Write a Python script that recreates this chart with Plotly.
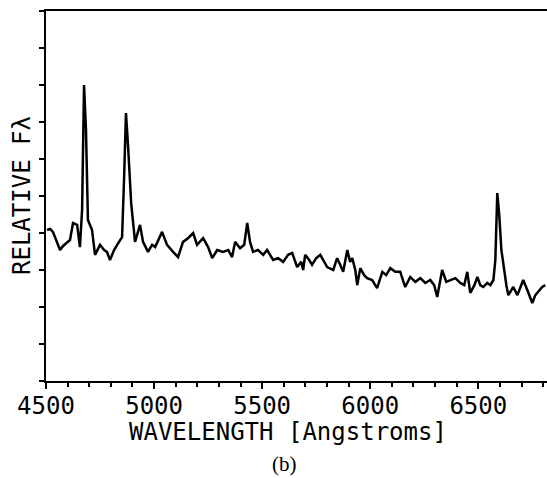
import plotly.graph_objects as go

wavelength = [4505, 4519, 4532, 4546, 4565, 4579, 4597, 4611, 4625, 4644, 4657, 4667, 4676, 4685, 4694,
              4713, 4727, 4750, 4769, 4782, 4796, 4815, 4829, 4852, 4861, 4870, 4880, 4894, 4912, 4935,
              4949, 4972, 4991, 5005, 5037, 5060, 5088, 5111, 5134, 5157, 5181, 5199, 5227, 5250, 5269,
              5292, 5319, 5343, 5361, 5375, 5398, 5417, 5431, 5444, 5458, 5481, 5505, 5523, 5551, 5574,
              5597, 5620, 5639, 5662, 5681, 5690, 5699, 5718, 5731, 5750, 5769, 5787, 5801, 5829, 5847,
              5861, 5875, 5894, 5907, 5917, 5931, 5940, 5954, 5972, 5986, 6009, 6032, 6056, 6074, 6093,
              6116, 6139, 6162, 6185, 6209, 6232, 6255, 6278, 6296, 6310, 6333, 6352, 6370, 6394, 6417,
              6435, 6449, 6463, 6482, 6496, 6509, 6523, 6542, 6556, 6570, 6579, 6588, 6597, 6607, 6616,
              6630, 6639, 6653, 6662, 6681, 6695, 6708, 6727, 6750, 6764, 6778, 6796, 6810]
flux = [4.08, 4.11, 4.03, 3.81, 3.54, 3.65, 3.73, 3.81, 4.27, 4.22, 3.62, 4.62, 8.00, 6.78, 4.35,
        4.08, 3.41, 3.68, 3.54, 3.49, 3.27, 3.54, 3.68, 3.89, 5.43, 7.24, 6.32, 4.81, 3.76, 4.22,
        3.76, 3.49, 3.68, 3.62, 4.03, 3.68, 3.49, 3.35, 3.76, 3.86, 4.00, 3.68, 3.86, 3.62, 3.32,
        3.54, 3.49, 3.54, 3.35, 3.76, 3.59, 3.68, 4.27, 3.76, 3.49, 3.54, 3.41, 3.54, 3.27, 3.32,
        3.22, 3.41, 3.46, 3.08, 3.22, 3.00, 3.41, 3.27, 3.14, 3.32, 3.41, 3.22, 3.08, 3.00, 3.32,
        3.14, 2.95, 3.54, 3.22, 3.32, 3.00, 2.59, 3.05, 2.86, 2.78, 2.73, 2.51, 2.95, 2.86, 3.05,
        2.95, 2.95, 2.54, 2.81, 2.68, 2.78, 2.65, 2.73, 2.59, 2.27, 3.00, 2.68, 2.73, 2.78, 2.65,
        2.59, 2.95, 2.38, 2.59, 2.81, 2.59, 2.54, 2.65, 2.59, 2.73, 3.27, 5.08, 4.49, 3.54, 3.14,
        2.59, 2.32, 2.46, 2.54, 2.32, 2.51, 2.73, 2.46, 2.11, 2.32, 2.41, 2.54, 2.59]

x_title = "WAVELENGTH [Angstroms]"
y_title = "RELATIVE Fλ"
caption = "(b)"

mono = "DejaVu Sans Mono"

fig = go.Figure()
fig.add_trace(go.Scatter(x=wavelength, y=flux, mode="lines",
                         line=dict(color="black", width=2.5), showlegend=False))

fig.update_layout(
    width=547, height=478,
    margin=dict(l=46, r=0, t=11, b=97),
    paper_bgcolor="white", plot_bgcolor="white",
    font=dict(family=mono, color="black", size=24),
)
fig.update_xaxes(
    range=[4500, 6818], tick0=4500, dtick=500,
    showline=True, linecolor="black", linewidth=2, mirror=True,
    ticks="outside", ticklen=6, tickwidth=2, tickcolor="black",
    minor=dict(dtick=100, ticks="outside", ticklen=4, tickwidth=1.5, tickcolor="black"),
    showgrid=False, zeroline=False, ticklabelstandoff=-4,
    tickfont=dict(family=mono, size=24, color="black"),
)
fig.update_yaxes(
    range=[0, 10], tick0=0, dtick=1,
    showline=True, linecolor="black", linewidth=2, mirror=False,
    ticks="outside", ticklen=5, tickwidth=2, tickcolor="black",
    showticklabels=False, showgrid=False, zeroline=False,
)
fig.add_annotation(text=x_title, xref="paper", yref="paper", x=0.483, y=0,
                   yshift=-51, xanchor="center", yanchor="middle", showarrow=False,
                   font=dict(family=mono, size=24, color="black"))
fig.add_annotation(text=y_title, xref="paper", yref="paper", x=0, y=0.5,
                   xshift=-24, xanchor="center", yanchor="middle", textangle=-90,
                   showarrow=False, font=dict(family=mono, size=24, color="black"))
fig.add_annotation(text=caption, xref="paper", yref="paper", x=0.477, y=0,
                   yshift=-83, xanchor="center", yanchor="middle", showarrow=False,
                   font=dict(family="Liberation Serif", size=21, color="black"))

fig.write_html("out.html")
